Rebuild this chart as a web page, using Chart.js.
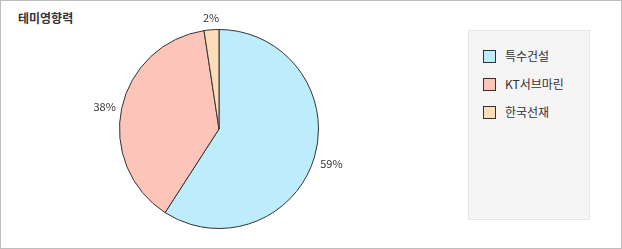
<!DOCTYPE html>
<html lang="ko">
<head>
<meta charset="UTF-8">
<script src="https://cdn.jsdelivr.net/npm/chart.js"></script>
<title>테미영향력</title>
<style>
    body { margin: 0; background: #fff; font-family: "Noto Sans CJK KR", sans-serif; }
    .wrap {
        position: relative;
        width: 622px; height: 249px;
        box-sizing: border-box;
        border: 1px solid #bdbdbd;
        background: #fff;
    }
    .title {
        position: absolute; left: 17px; top: 8px;
        font-size: 12px; font-weight: bold; color: #333;
    }
    .chart-box { position: absolute; left: 0; top: 0; width: 436px; height: 247px; }
    .legend {
        position: absolute; left: 467px; top: 29px;
        width: 122px; height: 190px;
        box-sizing: border-box;
        background: #f5f5f5; border: 1px solid #e6e6e6;
    }
    .legend .item {
        position: absolute; left: 14px;
        font-size: 12px; color: #333; line-height: 14px;
    }
    .legend .sw {
        display: inline-block; width: 11px; height: 11px;
        border: 1px solid #333; vertical-align: -2px; margin-right: 9px;
    }
</style>
</head>
<body>
<div class="wrap">
    <div class="title">테미영향력</div>
    <div class="chart-box"><canvas id="pie"></canvas></div>
    <div class="legend" id="legend"></div>
</div>
<script>
// 데이터
const labels = ['특수건설', 'KT서브마린', '한국선재'];
const values = [59, 38.4, 2.4];
const colors = ['#bdecfc', '#fdc4b9', '#fddcb9'];

// 범례
const legend = document.getElementById('legend');
labels.forEach((name, i) => {
    const d = document.createElement('div');
    d.className = 'item';
    d.style.top = (18 + i * 28) + 'px';
    d.innerHTML = '<span class="sw" style="background:' + colors[i] + '"></span>' + name;
    legend.appendChild(d);
});

// 퍼센트 라벨
const pctLabels = {
    id: 'pctLabels',
    afterDatasetsDraw(chart) {
        const ctx = chart.ctx;
        const meta = chart.getDatasetMeta(0);
        const total = values.reduce((a, b) => a + b, 0);
        ctx.save();
        ctx.font = '11px "Noto Sans CJK KR", sans-serif';
        ctx.fillStyle = '#333';
        meta.data.forEach((arc, i) => {
            const mid = (arc.startAngle + arc.endAngle) / 2;
            const r = arc.outerRadius + 6;
            const x = arc.x + Math.cos(mid) * r;
            const y = arc.y + Math.sin(mid) * r;
            const cx = Math.cos(mid);
            ctx.textAlign = Math.abs(cx) < 0.2 ? 'center' : (cx > 0 ? 'left' : 'right');
            ctx.textBaseline = Math.sin(mid) > 0.2 ? 'top' : (Math.sin(mid) < -0.5 ? 'bottom' : 'middle');
            ctx.fillText(Math.round(values[i] / total * 100) + '%', x, y);
        });
        ctx.restore();
    }
};

new Chart(document.getElementById('pie'), {
    type: 'pie',
    data: {
        labels: labels,
        datasets: [{
            data: values,
            backgroundColor: colors,
            borderColor: '#333',
            borderWidth: 1
        }]
    },
    options: {
        responsive: true,
        maintainAspectRatio: false,
        animation: false,
        layout: { padding: { top: 28, bottom: 19, left: 0, right: 0 } },
        plugins: {
            legend: { display: false },
            tooltip: { enabled: false }
        }
    },
    plugins: [pctLabels]
});
</script>
</body>
</html>
